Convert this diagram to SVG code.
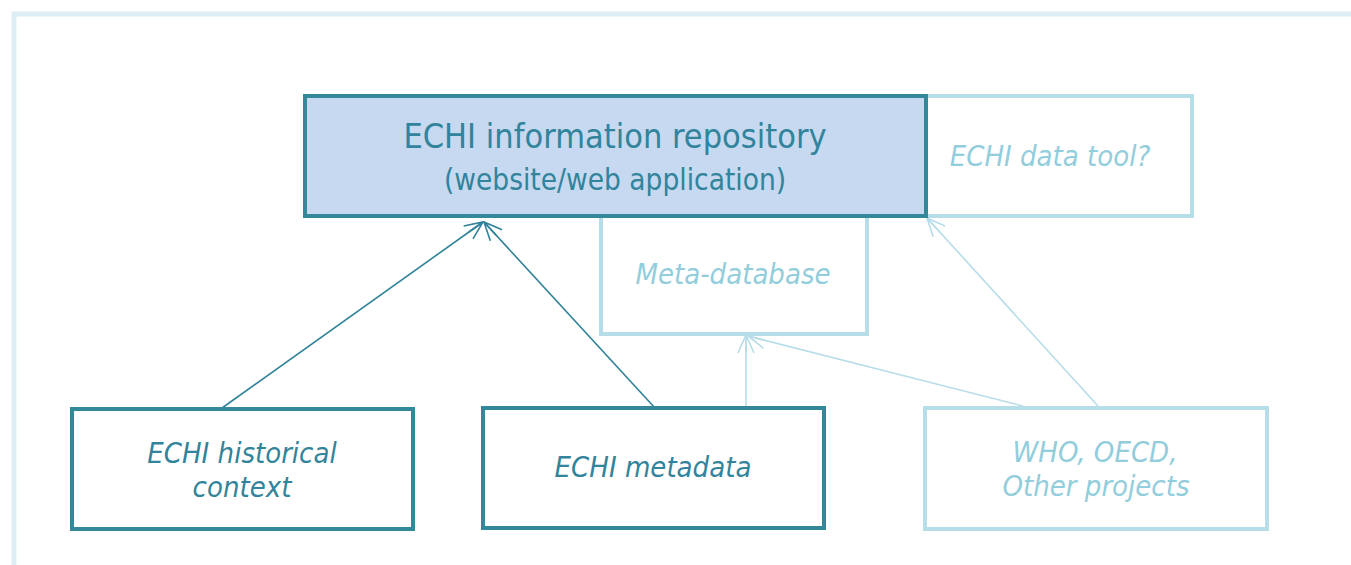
<svg xmlns="http://www.w3.org/2000/svg" width="1351" height="565" viewBox="0 0 1351 565">
<defs>
<style>
.dark{fill:#fff;stroke:#338899;stroke-width:4}
.light{fill:#fff;stroke:#b6dde8;stroke-width:4}
.tdark{fill:#31849b;font-family:"DejaVu Sans Condensed","DejaVu Sans",sans-serif;text-anchor:middle}
.tlight{fill:#92cddc;font-family:"DejaVu Sans Condensed","DejaVu Sans",sans-serif;text-anchor:middle;font-style:italic;font-size:29px}
.it{font-style:italic;font-size:29px}
.cd{stroke:#2f8298;stroke-width:1.6;fill:none}
.cl{stroke:#b6dde8;stroke-width:1.6;fill:none}
</style>
<marker id="ad" viewBox="0 0 20 20" refX="19" refY="10" markerWidth="20" markerHeight="20" markerUnits="userSpaceOnUse" orient="auto"><path d="M1,2 L19,10 L1,18 M19,10 L1,10" fill="none" stroke="#2f8298" stroke-width="1.6"/></marker>
<marker id="al" viewBox="0 0 20 20" refX="19" refY="10" markerWidth="20" markerHeight="20" markerUnits="userSpaceOnUse" orient="auto"><path d="M1,2 L19,10 L1,18 M19,10 L1,10" fill="none" stroke="#b6dde8" stroke-width="1.6"/></marker>
</defs>
<rect x="14" y="14" width="1350" height="570" fill="#fff" stroke="#dcedf3" stroke-width="5"/>
<g id="connectors">
<line class="cd" x1="222" y1="408" x2="483" y2="222" marker-end="url(#ad)"/>
<line class="cd" x1="655" y1="408" x2="484" y2="222" marker-end="url(#ad)"/>
<line class="cl" x1="746" y1="407" x2="746" y2="335" marker-end="url(#al)"/>
<line class="cl" x1="1023" y1="406" x2="748" y2="336" marker-end="url(#al)"/>
<line class="cl" x1="1098" y1="406" x2="927" y2="218" marker-end="url(#al)"/>
</g>
<g id="datatool">
<rect class="light" x="926" y="96" width="266" height="120"/>
<text class="tlight" x="1050" y="166">ECHI data tool?</text>
</g>
<g id="metadatabase">
<rect class="light" x="601" y="200" width="266" height="134"/>
<text class="tlight" x="733" y="284">Meta-database</text>
</g>
<g id="repository">
<rect x="305" y="96" width="621" height="120" fill="#c6d9f0" stroke="#338899" stroke-width="4"/>
<text class="tdark" x="615" y="148" font-size="34">ECHI information repository</text>
<text class="tdark" x="615" y="190" font-size="29.5">(website/web application)</text>
</g>
<g id="historical">
<rect class="dark" x="72" y="409" width="341" height="120"/>
<text class="tdark it" x="242" y="463">ECHI historical</text>
<text class="tdark it" x="242" y="497">context</text>
</g>
<g id="metadata">
<rect class="dark" x="483" y="408" width="341" height="120"/>
<text class="tdark it" x="653" y="477">ECHI metadata</text>
</g>
<g id="who">
<rect class="light" x="925" y="408" width="342" height="121"/>
<text class="tlight" x="1095" y="462">WHO, OECD,</text>
<text class="tlight" x="1096" y="496">Other projects</text>
</g>
</svg>
